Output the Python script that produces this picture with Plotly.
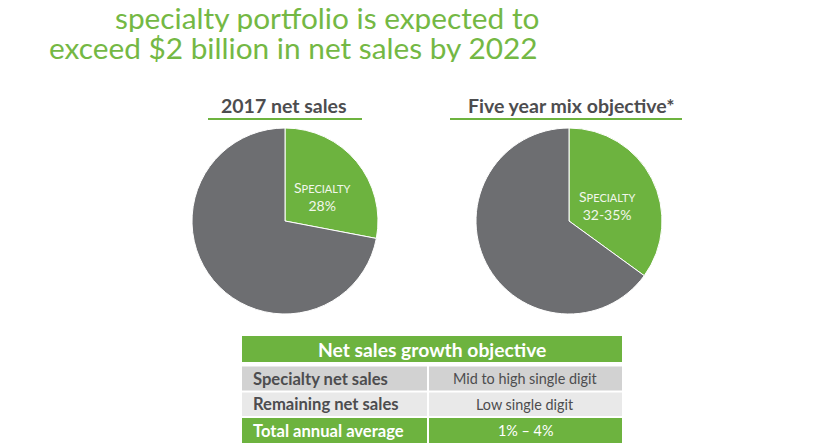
import plotly.graph_objects as go

W, H = 832, 448

# ---- data ----
title_lines = ["specialty portfolio is expected to", "exceed $2 billion in net sales by 2022"]
pie_titles = ["2017 net sales", "Five year mix objective*"]
pie_labels = ["Specialty", "Remaining"]
pie1_values = [28, 72]
pie2_values = [35, 65]
pie_text = ["28%", "32-35%"]

table_header = "Net sales growth objective"
table_rows = ["Specialty net sales", "Remaining net sales", "Total annual average"]
table_values = ["Mid to high single digit", "Low single digit", "1% \u2013 4%"]

GREEN = "#6db33f"
GRAY = "#6d6e71"
DARK = "#4d4d4f"
FONT = "Lato"


def px(x):
    return x / W


def py(y):
    return 1 - y / H


fig = go.Figure()

# pies
pie_geo = [(285, 221, 93), (569, 221, 93)]
for vals, (cx, cy, r) in zip([pie1_values, pie2_values], pie_geo):
    fig.add_trace(go.Pie(
        labels=pie_labels, values=vals, sort=False, direction="clockwise",
        rotation=0, textinfo="none", hoverinfo="label+percent",
        marker=dict(colors=[GREEN, GRAY], line=dict(color="white", width=1)),
        domain=dict(x=[px(cx - r), px(cx + r)], y=[py(cy + r), py(cy - r)]),
        showlegend=False,
    ))

annotations = []
shapes = []

# main title
title_pos = [(113, 18), (47, 48)]
for t, (x, y) in zip(title_lines, title_pos):
    annotations.append(dict(text=t, x=px(x), y=py(y), xref="paper", yref="paper",
                            xanchor="left", yanchor="middle", showarrow=False, height=29,
                            font=dict(family=FONT, size=29.8, color="#74b844")))

# pie titles + underlines
pt_geo = [(284, 208, 362), (571, 450, 682)]
for t, (cx, x0, x1) in zip(pie_titles, pt_geo):
    annotations.append(dict(text="<b>" + t + "</b>", x=px(cx), y=py(105), xref="paper", yref="paper",
                            xanchor="center", yanchor="middle", showarrow=False,
                            font=dict(family=FONT, size=19.5, color=DARK)))
    shapes.append(dict(type="line", xref="paper", yref="paper", x0=px(x0), x1=px(x1),
                       y0=py(119), y1=py(119), line=dict(color=GREEN, width=2)))

# slice labels
lab_pos = [(322, 197), (607, 205)]
for t, (x, y) in zip(pie_text, lab_pos):
    label = "S<span style='font-size:11px'>PECIALTY</span><br>" + t
    annotations.append(dict(text=label, x=px(x), y=py(y), xref="paper", yref="paper",
                            xanchor="center", yanchor="middle", showarrow=False, align="center",
                            font=dict(family=FONT, size=14, color="#f2f7ec")))

# table
tx0, tsplit, tx1 = 242, 428, 622
shapes.append(dict(type="rect", xref="paper", yref="paper", x0=px(tx0), x1=px(tx1),
                   y0=py(362), y1=py(336), fillcolor=GREEN, line=dict(width=0), layer="below"))
annotations.append(dict(text="<b>" + table_header + "</b>", x=px((tx0 + tx1) / 2), y=py(349.5),
                        xref="paper", yref="paper", showarrow=False, xanchor="center", yanchor="middle",
                        font=dict(family=FONT, size=19.3, color="white")))
row_y = [(366.5, 390.5), (392.5, 416), (418, 443)]
row_fill = ["#d2d2d2", "#e9e9e9", GREEN]
row_text_color = [DARK, DARK, "white"]
for lab, val, (y0, y1), fc, tc in zip(table_rows, table_values, row_y, row_fill, row_text_color):
    shapes.append(dict(type="rect", xref="paper", yref="paper", x0=px(tx0), x1=px(tsplit - 1),
                       y0=py(y1), y1=py(y0), fillcolor=fc, line=dict(width=0), layer="below"))
    shapes.append(dict(type="rect", xref="paper", yref="paper", x0=px(tsplit + 1), x1=px(tx1),
                       y0=py(y1), y1=py(y0), fillcolor=fc, line=dict(width=0), layer="below"))
    ym = (y0 + y1) / 2
    annotations.append(dict(text="<b>" + lab + "</b>", x=px(251), y=py(ym), xref="paper", yref="paper",
                            showarrow=False, xanchor="left", yanchor="middle",
                            font=dict(family=FONT, size=16.6, color=tc)))
    annotations.append(dict(text=val, x=px((tsplit + tx1) / 2), y=py(ym), xref="paper", yref="paper",
                            showarrow=False, xanchor="center", yanchor="middle",
                            font=dict(family=FONT, size=14.4, color=tc)))

fig.update_layout(
    width=W, height=H, margin=dict(l=0, r=0, t=0, b=0),
    paper_bgcolor="white", plot_bgcolor="white",
    annotations=annotations, shapes=shapes, showlegend=False,
)

# remove the browser's default 8px body margin so the figure fills the window
fig.write_html("out.html", config={"displayModeBar": False},
               post_script="document.body.style.margin='0';document.body.style.overflow='hidden';")
